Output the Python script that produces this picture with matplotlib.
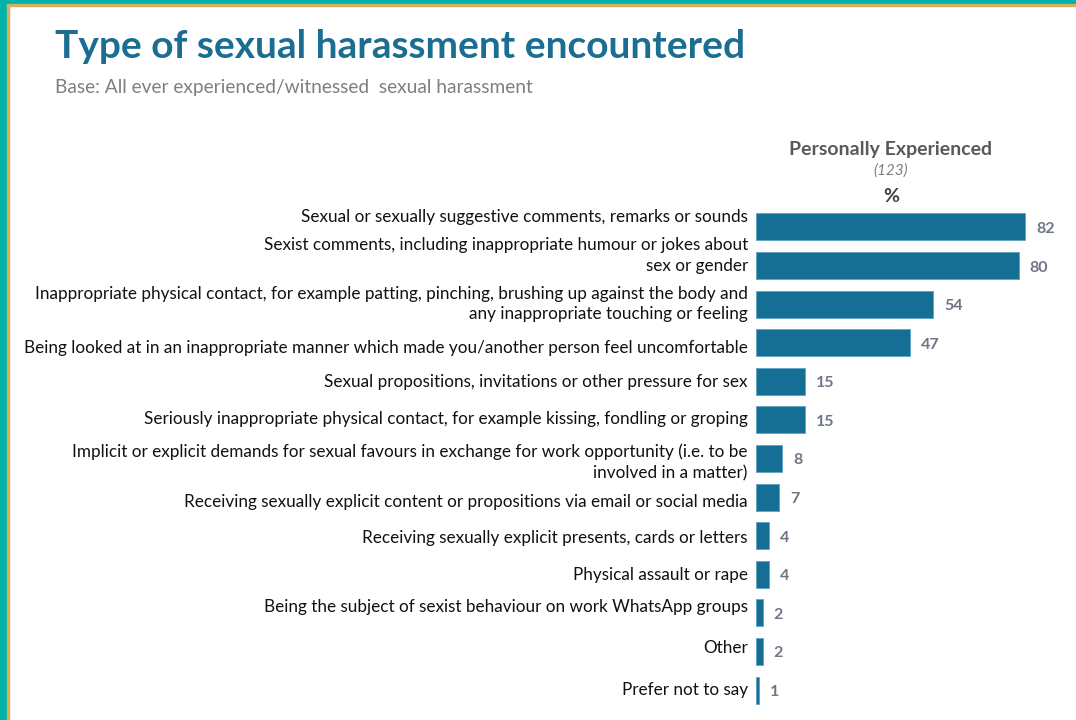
import numpy as np
import matplotlib
matplotlib.use("Agg")
import matplotlib.pyplot as plt
from matplotlib.patches import Rectangle

plt.rcParams["font.family"] = ["Lato", "DejaVu Sans"]

# survey answers, top to bottom
categories = [
    "Sexual or sexually suggestive comments, remarks or sounds",
    "Sexist comments, including inappropriate humour or jokes about\nsex or gender",
    "Inappropriate physical contact, for example patting, pinching, brushing up against the body and\nany inappropriate touching or feeling",
    "Being looked at in an inappropriate manner which made you/another person feel uncomfortable",
    "Sexual propositions, invitations or other pressure for sex",
    "Seriously inappropriate physical contact, for example kissing, fondling or groping",
    "Implicit or explicit demands for sexual favours in exchange for work opportunity (i.e. to be\ninvolved in a matter)",
    "Receiving sexually explicit content or propositions via email or social media",
    "Receiving sexually explicit presents, cards or letters",
    "Physical assault or rape",
    "Being the subject of sexist behaviour on work WhatsApp groups",
    "Other",
    "Prefer not to say",
]
pct = [82, 80, 54, 47, 15, 15, 8, 7, 4, 4, 2, 2, 1]
column_title = "Personally Experienced"
base_n = "(123)"

# small vertical nudges for the category text boxes (in bar units)
label_nudge = [-0.26, -0.26, 0, 0.13, 0.02, -0.02, 0.1, 0.13, 0.05, 0.03, -0.15, -0.1, 0]

BAR = "#156E93"
NUM = "#6E7584"

fig = plt.figure(figsize=(10.76, 7.2), dpi=100)
fig.patch.set_facecolor("white")

# slide frame: teal strip on the left and top with a thin gold rule inside
fig.patches.append(Rectangle((0, 0), 7 / 1076, 1, transform=fig.transFigure,
                             color="#00B2A9", zorder=0))
fig.patches.append(Rectangle((7 / 1076, 0), 2 / 1076, 1, transform=fig.transFigure,
                             color="#D8AE63", zorder=0))
fig.patches.append(Rectangle((0, 1 - 4 / 720), 1, 4 / 720, transform=fig.transFigure,
                             color="#00B2A9", zorder=0))
fig.patches.append(Rectangle((7 / 1076, 1 - 6 / 720), 1, 2 / 720, transform=fig.transFigure,
                             color="#D8AE63", zorder=0))

fig.text(55 / 1076, 1 - 46 / 720, "Type of sexual harassment encountered",
         fontsize=28, fontweight="bold", color="#1B6E92", va="center", ha="left")
fig.text(55 / 1076, 1 - 87 / 720, "Base: All ever experienced/witnessed  sexual harassment",
         fontsize=13.8, color="#7F7F7F", va="center", ha="left")

ax = fig.add_axes([756 / 1076, 1 - 709.3 / 720, 312 / 1076, (709.3 - 207.7) / 720])
y = np.arange(len(pct))
ax.barh(y, pct, height=0.7, color=BAR, edgecolor="#5FA3C4", linewidth=0.6)
ax.set_xlim(0, 95)
ax.set_ylim(len(pct) - 0.5, -0.5)
ax.axis("off")

for yi, v, lab, dy in zip(y, pct, categories, label_nudge):
    ax.text(v + 3.3, yi + 0.05, str(v), ha="left", va="center",
            fontsize=11.5, fontweight="bold", color=NUM)
    ax.text(-2.5, yi + dy, lab, ha="right", va="center", fontsize=12.3,
            color="#111111", linespacing=1.35)

fig.text(891 / 1076, 1 - 149 / 720, column_title, ha="center", va="center",
         fontsize=14, fontweight="bold", color="#595959")
fig.text(891 / 1076, 1 - 171 / 720, base_n, ha="center", va="center",
         fontsize=11, style="italic", color="#7F7F7F")
fig.text(891 / 1076, 1 - 196 / 720, "%", ha="center", va="center",
         fontsize=14, fontweight="bold", color="#404040")

fig.savefig("out.png", dpi=100)
